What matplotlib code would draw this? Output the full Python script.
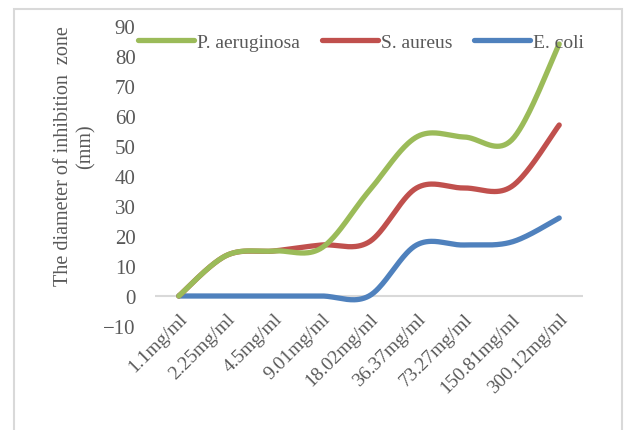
import numpy as np
import matplotlib.pyplot as plt
from matplotlib.patches import Rectangle

concentrations = ['1.1mg/ml', '2.25mg/ml', '4.5mg/ml', '9.01mg/ml', '18.02mg/ml',
                  '36.37mg/ml', '73.27mg/ml', '150.81mg/ml', '300.12mg/ml']
p_aeruginosa = [0, 13.5, 15, 16, 35, 53, 53, 52, 84]
s_aureus = [0, 13.5, 15, 17, 18, 36, 36, 36.5, 57]
e_coli = [0, 0, 0, 0, 0, 17, 17, 18, 26]

series_names = ['P. aeruginosa', 'S. aureus', 'E. coli']
series_colors = ['#9BBB59', '#C0504D', '#4F81BD']


def smooth_curve(y, steps=40):
    # cubic bezier through every point, control handles at 1/6 of the neighbour span
    y = np.asarray(y, dtype=float)
    x = np.arange(len(y), dtype=float)
    pts = np.column_stack([x, y])
    padded = np.vstack([pts[0], pts, pts[-1]])
    t = np.linspace(0, 1, steps)[:, None]
    out = []
    for i in range(len(pts) - 1):
        p0, p1 = padded[i + 1], padded[i + 2]
        c1 = p0 + (padded[i + 2] - padded[i]) / 6
        c2 = p1 - (padded[i + 3] - padded[i + 1]) / 6
        seg = ((1 - t) ** 3) * p0 + 3 * ((1 - t) ** 2) * t * c1 + 3 * (1 - t) * t ** 2 * c2 + t ** 3 * p1
        out.append(seg if i == 0 else seg[1:])
    seg = np.vstack(out)
    return seg[:, 0], seg[:, 1]


plt.rcParams['font.family'] = 'Liberation Serif'
text_color = '#595959'

fig = plt.figure(figsize=(6.26, 4.31), dpi=100)
ax = fig.add_axes([155 / 626, 1 - 327 / 431, 428 / 626, 300 / 431])

# outer chart border
fig.patches.append(Rectangle((14 / 626, -0.05), 608 / 626, 1.05 - 10 / 431,
                             transform=fig.transFigure, fill=False,
                             edgecolor='#D9D9D9', linewidth=1.5))

ax.axhline(0, color='#D9D9D9', linewidth=1.5, zorder=1)

for vals, name, col, z in zip([p_aeruginosa, s_aureus, e_coli], series_names, series_colors, [4, 3, 2]):
    xs, ys = smooth_curve(vals)
    ax.plot(xs, ys, color=col, linewidth=3.8, solid_capstyle='round', label=name, zorder=z)

# category labels hang from the zero line (set before the labels, it resets ticks)
ax.spines['bottom'].set_position(('data', 0))
for s in ax.spines.values():
    s.set_visible(False)

ax.set_xlim(-0.5, len(concentrations) - 0.5)
ax.set_ylim(-10, 90)
ax.set_yticks(range(-10, 91, 10))
ax.set_xticks(range(len(concentrations)))
ax.set_xticklabels(concentrations, rotation=45, ha='right', va='top', rotation_mode='anchor')
ax.tick_params(axis='both', length=0, colors=text_color)
ax.tick_params(axis='y', pad=14, labelsize=15)
ax.tick_params(axis='x', pad=10, labelsize=14)

fig.text(63 / 626, 1 - 156 / 431, 'The diameter of inhibition  zone', rotation=90,
         ha='center', va='center', fontsize=14.5, color=text_color)
fig.text(86 / 626, 1 - 147 / 431, '(mm)', rotation=90,
         ha='center', va='center', fontsize=14.5, color=text_color)

handles, labels = ax.get_legend_handles_labels()
ax.legend(handles, labels, loc='upper left', bbox_to_anchor=(138 / 626, 1 - 34 / 431),
          bbox_transform=fig.transFigure, ncol=3, frameon=False, fontsize=14,
          handlelength=2.9, handletextpad=0.15, columnspacing=1.1, labelcolor=text_color,
          borderaxespad=0, borderpad=0)

fig.savefig('out.png', dpi=100)
